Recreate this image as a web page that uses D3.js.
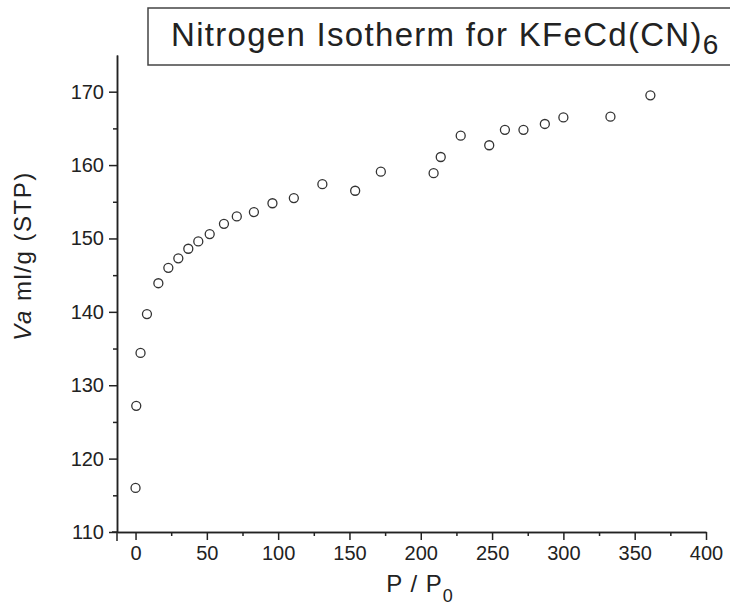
<!DOCTYPE html>
<html>
<head>
<meta charset="utf-8">
<script src="https://cdn.jsdelivr.net/npm/d3@7"></script>
<style>
  body { margin: 0; background: #fff; }
  svg { display: block; font-family: "Liberation Sans", Arial, sans-serif; }
  .tick text { fill: #222; }
</style>
</head>
<body>
<script>
'use strict';

const pressure = [0, 0.5, 3.5, 8, 16, 23, 30, 37, 44, 52, 62, 71, 83, 96, 111, 131, 154, 172, 209, 214, 228, 248, 259, 272, 287, 300, 333, 361];
const volume = [116.0, 127.2, 134.4, 139.7, 143.9, 146.0, 147.3, 148.6, 149.6, 150.6, 152.0, 153.0, 153.6, 154.8, 155.5, 157.4, 156.5, 159.1, 158.9, 161.1, 164.0, 162.7, 164.8, 164.8, 165.6, 166.5, 166.6, 169.5];

const xTicks = [0, 50, 100, 150, 200, 250, 300, 350, 400];
const xMinor = [25, 75, 125, 175, 225, 275, 325, 375];
const yTicks = [110, 120, 130, 140, 150, 160, 170];
const yMinor = [115, 125, 135, 145, 155, 165];

const m = {
  width: 730,
  height: 615,
  left: 117,
  right: 706,
  top: 55,
  bottom: 532
}

let svg = d3.select('body')
  .append('svg')
  .attr('width', m.width)
  .attr('height', m.height);

const funcs = drawAxes();
makeLabels();
plotData(funcs);

function drawAxes() {
  let xScale = d3.scaleLinear()
    .domain([-13, 400])
    .range([m.left, m.right]);

  let yScale = d3.scaleLinear()
    .domain([110, 175])
    .range([m.bottom, m.top]);

  // minor ticks first, then major ticks with labels
  svg.append('g')
    .attr('transform', 'translate(0, ' + m.bottom + ')')
    .call(d3.axisBottom(xScale).tickValues(xMinor).tickSize(4).tickSizeOuter(0).tickFormat(''));

  let xAxis = svg.append('g')
    .attr('id', 'x-axis')
    .attr('transform', 'translate(0, ' + m.bottom + ')')
    .call(d3.axisBottom(xScale).tickValues(xTicks).tickSize(8).tickSizeOuter(0).tickPadding(6));
  xAxis.selectAll('text').style('font-size', '20px');

  svg.append('g')
    .attr('transform', 'translate(' + m.left + ', 0)')
    .call(d3.axisLeft(yScale).tickValues(yMinor).tickSize(4).tickSizeOuter(0).tickFormat(''));

  let yAxis = svg.append('g')
    .attr('id', 'y-axis')
    .attr('transform', 'translate(' + m.left + ', 0)')
    .call(d3.axisLeft(yScale).tickValues(yTicks).tickSize(8).tickSizeOuter(0).tickPadding(5));
  yAxis.selectAll('text').style('font-size', '20px');

  // the two axis lines run a little past the corner
  svg.append('line')
    .attr('x1', m.left).attr('x2', m.left)
    .attr('y1', m.bottom).attr('y2', m.bottom + 9);
  svg.append('line')
    .attr('x1', m.left - 5).attr('x2', m.left)
    .attr('y1', m.bottom).attr('y2', m.bottom);

  svg.selectAll('.domain, .tick line, line')
    .attr('stroke', '#222')
    .attr('stroke-width', 1.5);

  return { xScale: xScale, yScale: yScale };
}

function makeLabels() {
  // title box runs off the right edge
  svg.append('rect')
    .attr('x', 148)
    .attr('y', 8)
    .attr('width', 640)
    .attr('height', 57)
    .attr('fill', 'none')
    .attr('stroke', '#444')
    .attr('stroke-width', 1.5);

  let title = svg.append('text')
    .attr('x', 171)
    .attr('y', 46)
    .style('font-size', '33px')
    .style('letter-spacing', '1.3px')
    .attr('fill', '#222');
  title.append('tspan').text('Nitrogen Isotherm for KFeCd(CN)');
  title.append('tspan').attr('dy', 8).style('font-size', '28px').text('6');

  let yLabel = svg.append('text')
    .attr('transform', 'translate(31, 256)rotate(-90)')
    .attr('text-anchor', 'middle')
    .style('font-size', '24px')
    .style('letter-spacing', '1.5px')
    .attr('fill', '#222');
  yLabel.append('tspan').style('font-style', 'italic').text('Va');
  yLabel.append('tspan').text(' ml/g (STP)');

  let xLabel = svg.append('text')
    .attr('x', 420)
    .attr('y', 592)
    .attr('text-anchor', 'middle')
    .style('font-size', '24px')
    .style('letter-spacing', '1px')
    .attr('fill', '#222');
  xLabel.append('tspan').text('P / P');
  xLabel.append('tspan').attr('dy', 10).style('font-size', '18px').text('0');
}

function plotData(map) {
  let points = pressure.map((p, i) => ({ p: p, v: volume[i] }));

  svg.selectAll('.dot')
    .data(points)
    .enter()
    .append('circle')
    .attr('class', 'dot')
    .attr('cx', (d) => map.xScale(d.p))
    .attr('cy', (d) => map.yScale(d.v))
    .attr('r', 4.5)
    .attr('fill', 'none')
    .attr('stroke', '#333')
    .attr('stroke-width', 1.3);
}
</script>
</body>
</html>
